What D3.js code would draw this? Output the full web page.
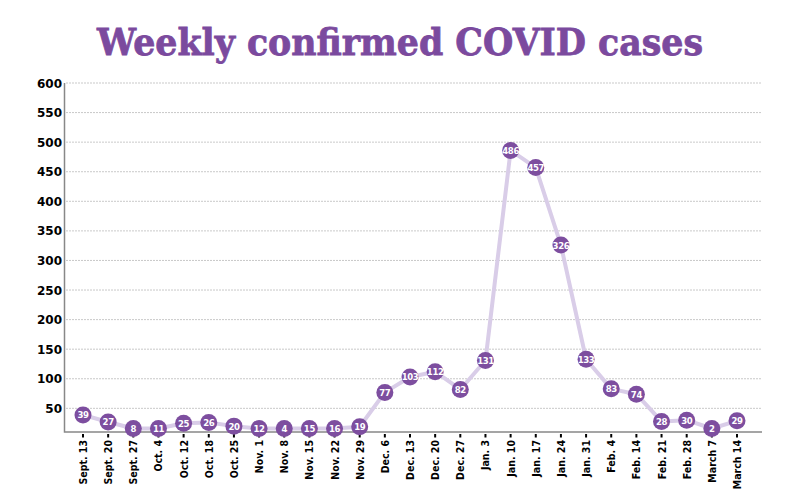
<!DOCTYPE html>
<html>
<head>
<meta charset="utf-8">
<script src="https://cdn.jsdelivr.net/npm/d3@7"></script>
<style>
  body { margin: 0; background: #fff; }
  svg { display: block; }
  .grid line { stroke: #bbb; stroke-dasharray: 2,1; stroke-width: 0.8; }
  .ylab { font-family: "DejaVu Sans", Verdana, sans-serif; font-weight: bold; font-size: 12px; fill: #000; }
  .xlab { font-family: "DejaVu Sans Condensed", "DejaVu Sans", sans-serif; font-weight: bold; font-size: 10.5px; fill: #000; }
  .pt text { font-family: "DejaVu Sans Condensed", "DejaVu Sans", sans-serif; font-weight: bold; font-size: 9.5px; fill: #fff; letter-spacing: -0.4px; }
</style>
</head>
<body>
<svg id="chart" width="800" height="502"></svg>
<script>
const weeks = ["Sept. 13", "Sept. 20", "Sept. 27", "Oct. 4", "Oct. 12", "Oct. 18", "Oct. 25",
  "Nov. 1", "Nov. 8", "Nov. 15", "Nov. 22", "Nov. 29", "Dec. 6", "Dec. 13", "Dec. 20", "Dec. 27",
  "Jan. 3", "Jan. 10", "Jan. 17", "Jan. 24", "Jan. 31", "Feb. 4", "Feb. 14", "Feb. 21", "Feb. 28",
  "March 7", "March 14"];
const cases = [39, 27, 8, 11, 25, 26, 20, 12, 4, 15, 16, 19, 77, 103, 112, 82,
  131, 486, 457, 326, 133, 83, 74, 28, 30, 2, 29];
const yTicks = [50, 100, 150, 200, 250, 300, 350, 400, 450, 500, 550, 600];

const svg = d3.select("#chart");

let x = d3.scalePoint().domain(weeks).range([83, 737]);
let y = d3.scaleLinear().domain([10, 600]).range([432, 83]);
// markers never drop below the axis
let yMark = d3.scaleLinear().domain([16, 600]).range([428.5, 83]).clamp(true);

svg.append("text")
    .attr("x", 400).attr("y", 55)
    .attr("text-anchor", "middle")
    .attr("textLength", 606)
    .attr("lengthAdjust", "spacingAndGlyphs")
    .style("font-family", "'DejaVu Serif', serif")
    .style("font-weight", "bold")
    .style("font-size", "37px")
    .style("fill", "#7b4a9e")
    .style("stroke", "#7b4a9e")
    .style("stroke-width", 0.8)
    .text("Weekly confirmed COVID cases");

// gridlines
svg.append("g").attr("class", "grid")
  .selectAll("line").data(yTicks).enter().append("line")
    .attr("x1", 66).attr("x2", 762)
    .attr("y1", d => y(d)).attr("y2", d => y(d));

// y labels
svg.append("g").selectAll("text").data(yTicks).enter().append("text")
    .attr("class", "ylab")
    .attr("x", 62).attr("y", d => y(d) + 4.5)
    .attr("text-anchor", "end")
    .text(d => d);

// axis lines
svg.append("path")
    .attr("d", "M 64.5 83 V 432 H 762")
    .attr("fill", "none")
    .attr("stroke", "#888")
    .attr("stroke-width", 1.5);

// x ticks & labels
let xg = svg.append("g").selectAll("g").data(weeks).enter().append("g")
    .attr("transform", d => "translate(" + x(d) + ",0)");
xg.append("line")
    .attr("y1", 434).attr("y2", 437.5)
    .attr("stroke", "#000").attr("stroke-width", 2);
xg.append("text")
    .attr("class", "xlab")
    .attr("transform", "translate(4,440) rotate(-90)")
    .attr("text-anchor", "end")
    .text(d => d);

// line
let line = d3.line()
    .x((d, i) => x(weeks[i]))
    .y(d => yMark(d));

svg.append("path")
    .datum(cases)
    .attr("d", line)
    .attr("fill", "none")
    .attr("stroke", "#d9cde8")
    .attr("stroke-width", 4)
    .attr("stroke-linejoin", "round");

let pts = svg.append("g").selectAll("g").data(cases).enter().append("g")
    .attr("class", "pt")
    .attr("transform", (d, i) => "translate(" + x(weeks[i]) + "," + yMark(d) + ")");
pts.append("circle")
    .attr("r", 8.5)
    .attr("fill", "#7d4e9f");
pts.append("text")
    .attr("text-anchor", "middle")
    .attr("dy", "0.36em")
    .text(d => d);
</script>
</body>
</html>
